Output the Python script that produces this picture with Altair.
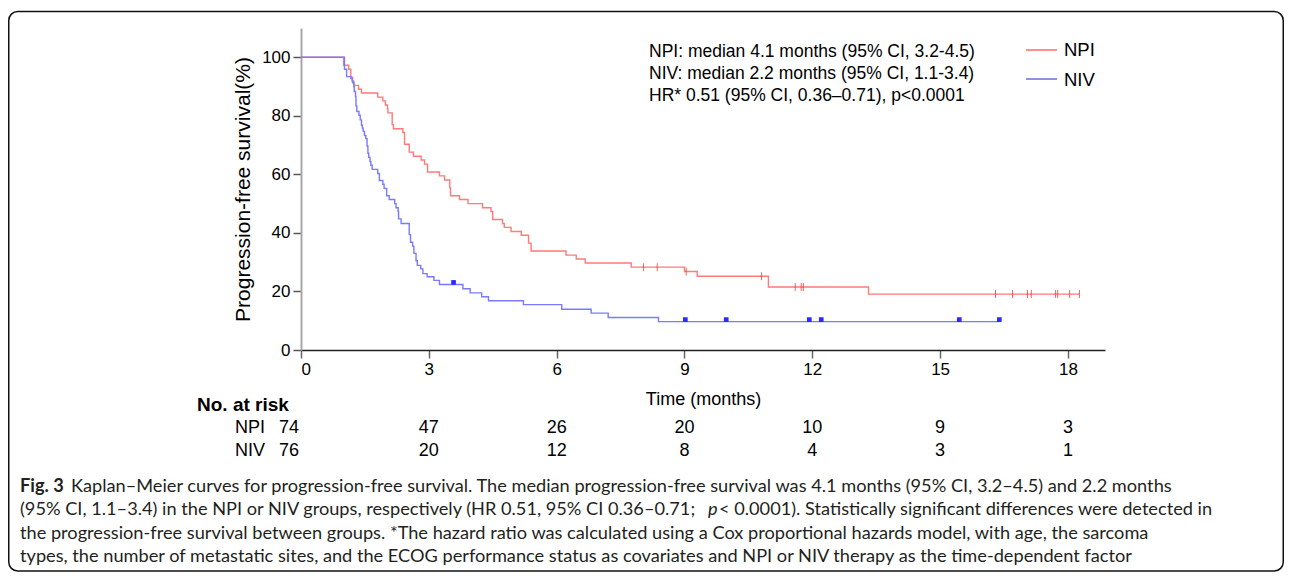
import altair as alt
import pandas as pd

# ---------------- data ----------------
npi_t = [0, 1.00, 1.12, 1.17, 1.21, 1.24, 1.35, 1.42, 1.80, 1.92, 1.98, 2.03, 2.04, 2.14, 2.17,
         2.39, 2.43, 2.54, 2.64, 2.82, 2.90, 2.97, 3.25, 3.37, 3.49, 3.51, 3.72, 3.92, 4.26,
         4.46, 4.50, 4.73, 4.77, 4.93, 5.17, 5.34, 5.40, 6.22, 6.46, 6.67, 7.75, 9.00, 9.30,
         10.97, 13.32, 18.27]
npi_s = [100, 97.3, 95.9, 93.2, 91.8, 90.4, 89.1, 87.8, 86.4, 85.1, 83.7, 82.3, 81.0, 77.0, 75.6,
         74.3, 70.3, 67.6, 66.2, 64.9, 63.5, 60.8, 59.5, 58.1, 55.4, 52.7, 51.4, 50.0, 48.6,
         47.3, 44.6, 43.2, 41.9, 40.5, 39.2, 36.5, 33.8, 32.4, 31.1, 29.7, 28.3, 26.8, 25.2,
         21.5, 19.1, 19.1]

niv_t = [0, 1.02, 1.07, 1.17, 1.20, 1.21, 1.24, 1.25, 1.28, 1.29, 1.31, 1.36, 1.39, 1.42, 1.44,
         1.46, 1.49, 1.52, 1.55, 1.57, 1.59, 1.62, 1.64, 1.67, 1.80, 1.84, 1.92, 1.95, 2.01,
         2.07, 2.20, 2.23, 2.28, 2.29, 2.35, 2.54, 2.57, 2.62, 2.65, 2.70, 2.73, 2.81, 2.86,
         2.96, 3.12, 3.25, 3.80, 3.97, 4.24, 4.40, 5.22, 6.12, 6.81, 7.21, 8.39, 16.39]
niv_s = [100, 95.9, 93.4, 92.7, 92.0, 91.3, 90.0, 88.3, 86.6, 83.4, 81.5, 80.2, 78.6, 76.8, 75.8,
         74.7, 73.3, 72.2, 69.7, 67.2, 65.8, 64.4, 63.1, 61.7, 60.3, 57.9, 56.6, 55.2, 52.7,
         51.4, 50.0, 48.6, 47.3, 44.8, 43.2, 39.4, 36.8, 35.5, 33.0, 30.5, 28.9, 27.7, 26.1,
         25.0, 23.8, 22.4, 20.9, 19.5, 18.2, 16.8, 15.5, 13.9, 12.6, 11.1, 9.7, 9.7]

npi_cens_t = [8.04, 8.36, 9.04, 10.81, 11.60, 11.74, 11.79, 16.30, 16.70, 17.05, 17.14, 17.71,
              17.76, 18.04, 18.27]
npi_cens_s = [28.3, 28.3, 26.8, 25.2, 21.5, 21.5, 21.5, 19.1, 19.1, 19.1, 19.1, 19.1,
              19.1, 19.1, 19.1]
niv_cens_t = [3.58, 9.02, 9.98, 11.93, 12.21, 15.45, 16.39]
niv_cens_s = [22.4, 9.7, 9.7, 9.7, 9.7, 9.7, 9.7]

risk_times = [0, 3, 6, 9, 12, 15, 18]
risk_npi = [74, 47, 26, 20, 10, 9, 3]
risk_niv = [76, 20, 12, 8, 4, 3, 1]

groups = ["NPI", "NIV"]
annot_lines = ["NPI: median 4.1 months (95% CI, 3.2-4.5)",
               "NIV: median 2.2 months (95% CI, 1.1-3.4)",
               "HR* 0.51 (95% CI, 0.36–0.71), p<0.0001"]

cap1_bold = "Fig. 3"
cap1 = ("Kaplan–Meier curves for progression-free survival. The median progression-free "
        "survival was 4.1 months (95% CI, 3.2–4.5) and 2.2 months")
cap2a = "(95% CI, 1.1–3.4) in the NPI or NIV groups, respectively (HR 0.51, 95% CI 0.36–0.71;"
cap2b = "p"
cap2c = "< 0.0001). Statistically significant differences were detected in"
cap3 = ("the progression-free survival between groups. *The hazard ratio was calculated using a "
        "Cox proportional hazards model, with age, the sarcoma")
cap4 = ("types, the number of metastatic sites, and the ECOG performance status as covariates "
        "and NPI or NIV therapy as the time-dependent factor")

# ---------------- tables ----------------
curves = pd.concat([
    pd.DataFrame({"t": npi_t, "s": npi_s, "g": "NPI"}),
    pd.DataFrame({"t": niv_t, "s": niv_s, "g": "NIV"}),
])
npi_c = pd.DataFrame({"t": npi_cens_t, "s": npi_cens_s})
niv_c = pd.DataFrame({"t": niv_cens_t, "s": niv_cens_s})
risk = pd.DataFrame({"t": risk_times, "npi": risk_npi, "niv": risk_niv})
one = pd.DataFrame({"k": [0]})

FONT = "Liberation Sans"
CAPFONT = "Lato"
RED_LINE = "#ff7a7a"
BLUE_LINE = "#7a7aff"

W, H = 804, 322
PAD_L, PAD_T = 293, 20
TOT_W, TOT_H = 1276, 564

xscale = alt.Scale(domain=[0, 18.87], nice=False, zero=False)
yscale = alt.Scale(domain=[0, 110], nice=False)
xaxis = alt.Axis(values=[0, 3, 6, 9, 12, 15, 18], format="d", tickSize=8, labelPadding=3,
                 labelFontSize=17, titleFontSize=18, titlePadding=13, domainColor="#222",
                 domainWidth=1.5, tickColor="#666", tickWidth=1.5, labelColor="#000",
                 titleColor="#000", titleFontWeight="normal", grid=False,
                 labelFont=FONT, titleFont=FONT)
yaxis = alt.Axis(values=[0, 20, 40, 60, 80, 100], tickSize=8, labelPadding=3,
                 labelFontSize=17, titleFontSize=21, titlePadding=8, domainColor="#a8a8a8",
                 domainWidth=2, tickColor="#555", tickWidth=1.5, labelColor="#000",
                 titleColor="#000", titleFontWeight="normal", grid=False,
                 labelFont=FONT, titleFont=FONT)


def X():
    return alt.X("t:Q", scale=xscale, axis=xaxis, title="Time (months)")


def Y():
    return alt.Y("s:Q", scale=yscale, axis=yaxis, title="Progression-free survival(%)")


color = alt.Color("g:N", scale=alt.Scale(domain=groups, range=[RED_LINE, BLUE_LINE]), legend=None)

lines = alt.Chart(curves).mark_line(interpolate="step-after", strokeWidth=1.4).encode(
    x=X(), y=Y(), color=color, detail="g:N")

npi_ticks = alt.Chart(npi_c).mark_tick(orient="vertical", color="#ff2020", thickness=1,
                                       size=8).encode(x=X(), y=Y())
niv_sq = alt.Chart(niv_c).mark_square(color="#2a2aff", size=22, opacity=1,
                                      yOffset=-2).encode(x=X(), y=Y())


def txt(text, x, y, size=17.5, weight="normal", align="left", font=FONT, style="normal",
        color="#000"):
    return alt.Chart(pd.DataFrame({"label": [text]})).mark_text(
        align=align, baseline="middle", fontSize=size, font=font, fontWeight=weight,
        fontStyle=style, color=color).encode(x=alt.value(x), y=alt.value(y), text="label:N")


# annotation text block (page coords minus plot origin 301, 28)
annot = [txt(annot_lines[i], 348, 24 + 22 * i) for i in range(3)]

# legend
leg_lines = [
    alt.Chart(one).mark_rule(color="#ff2020", strokeWidth=1).encode(
        x=alt.value(725), x2=alt.value(756), y=alt.value(22)),
    alt.Chart(one).mark_rule(color="#2020c8", strokeWidth=1).encode(
        x=alt.value(725), x2=alt.value(756), y=alt.value(51)),
]
leg_text = [txt("NPI", 763, 22, size=18.5), txt("NIV", 763, 52, size=18.5)]

# risk table
risk_title = txt("No. at risk", -104, 377, size=19, weight="bold")
risk_rows = [txt("NPI", -66, 400, size=18), txt("NIV", -66, 423, size=18)]


def risk_layer(field, y, first):
    base = alt.Chart(risk).transform_filter(
        "datum.t == 0" if first else "datum.t > 0")
    return base.mark_text(align="center", baseline="middle", fontSize=18, font=FONT,
                          color="#000", dx=-12 if first else 0).encode(
        x=X(), y=alt.value(y), text=alt.Text(f"{field}:Q"))


risk_vals = [risk_layer("npi", 400, True), risk_layer("npi", 400, False),
             risk_layer("niv", 423, True), risk_layer("niv", 423, False)]

# caption
CAPC = "#231f20"
CS = 18.2
cap = [
    txt(cap1_bold, -281, 459, size=CS, weight="bold", font=CAPFONT, color=CAPC),
    txt(cap1, -230, 459, size=CS, font=CAPFONT, color=CAPC),
    txt(cap2a, -281, 482, size=CS, font=CAPFONT, color=CAPC),
    txt(cap2b, 407, 482, size=CS, font=CAPFONT, color=CAPC, style="italic"),
    txt(cap2c, 418, 482, size=CS, font=CAPFONT, color=CAPC),
    txt(cap3, -281, 506, size=CS, font=CAPFONT, color=CAPC),
    txt(cap4, -281, 529, size=CS, font=CAPFONT, color=CAPC),
]

border = alt.Chart(one).mark_rect(fill=None, stroke="#111", strokeWidth=1.5,
                                  cornerRadius=9).encode(
    x=alt.value(-PAD_L + 0.75), x2=alt.value(TOT_W - PAD_L - 0.75),
    y=alt.value(-16.5), y2=alt.value(TOT_H - PAD_T - 1))

chart = alt.layer(
    lines, npi_ticks, niv_sq, *annot, *leg_lines, *leg_text, risk_title, *risk_rows,
    *risk_vals, *cap, border
).properties(
    width=W, height=H,
    autosize=alt.AutoSizeParams(type="none"),
    padding={"left": PAD_L, "top": PAD_T, "right": TOT_W - PAD_L - W,
             "bottom": TOT_H - PAD_T - H},
    background="white",
).configure_view(stroke=None)

chart.save("out.html", embed_options={"renderer": "svg", "actions": False})
